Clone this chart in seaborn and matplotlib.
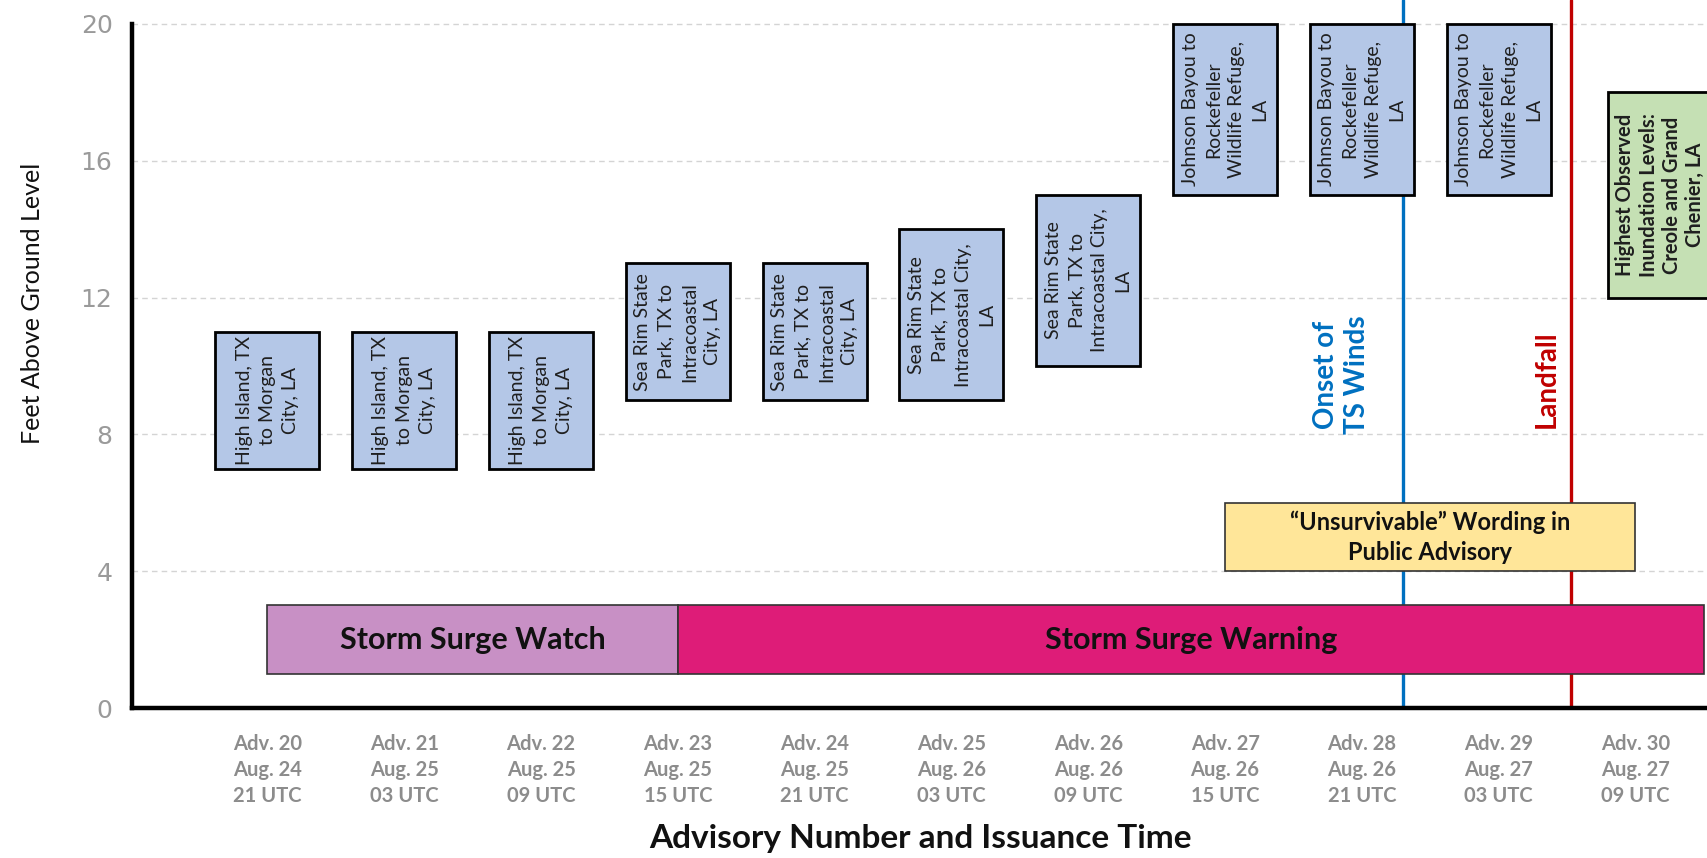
import numpy as np
import pandas as pd
import matplotlib.pyplot as plt
import seaborn as sns

# advisory axis
adv = ['Adv. 20', 'Adv. 21', 'Adv. 22', 'Adv. 23', 'Adv. 24', 'Adv. 25',
       'Adv. 26', 'Adv. 27', 'Adv. 28', 'Adv. 29', 'Adv. 30']
dates = ['Aug. 24', 'Aug. 25', 'Aug. 25', 'Aug. 25', 'Aug. 25', 'Aug. 26',
         'Aug. 26', 'Aug. 26', 'Aug. 26', 'Aug. 27', 'Aug. 27']
times = ['21 UTC', '03 UTC', '09 UTC', '15 UTC', '21 UTC', '03 UTC',
         '09 UTC', '15 UTC', '21 UTC', '03 UTC', '09 UTC']

# peak surge forecast ranges (ft) for adv 20-29
peak_low = [7, 7, 7, 9, 9, 9, 10, 15, 15, 15]
peak_high = [11, 11, 11, 13, 13, 14, 15, 20, 20, 20]
hi_tx = 'High Island, TX\nto Morgan\nCity, LA'
sr_a = 'Sea Rim State\nPark, TX to\nIntracoastal\nCity, LA'
sr_b = 'Sea Rim State\nPark, TX to\nIntracoastal City,\nLA'
jb = 'Johnson Bayou to\nRockefeller\nWildlife Refuge,\nLA'
peak_areas = [hi_tx, hi_tx, hi_tx, sr_a, sr_a, sr_b, sr_b, jb, jb, jb]

# observed
obs_x = 10.18
obs_low, obs_high = 12, 18
obs_label = 'Highest Observed\nInundation Levels:\nCreole and Grand\nChenier, LA'

# watch / warning spans (advisory index)
watch_span = (0, 3)
warning_span = (3, 10.5)
unsurv_span = (7, 10)
ts_onset = 8.3
landfall = 9.53

sns.set_theme(style='white')
plt.rcParams['font.family'] = ['Lato', 'DejaVu Sans']

fig = plt.figure(figsize=(17.08, 8.58), dpi=100)
ax = fig.add_axes([132/1708, 150/858, 1576/1708, 708/858])

xs = np.arange(len(adv))

# event lines
ax.axvline(ts_onset, color='#0070c0', lw=2.4, zorder=2)
ax.axvline(landfall, color='#c00000', lw=2.4, zorder=2)
ax.text(ts_onset - 0.45, 8.0, 'Onset of\nTS Winds', rotation=90, ha='center', va='bottom',
        color='#0070c0', fontsize=20, fontweight='bold', linespacing=1.25)
ax.text(landfall - 0.18, 8.2, 'Landfall', rotation=90, ha='center', va='bottom',
        color='#c00000', fontsize=20, fontweight='bold')

# forecast boxes
ax.bar(xs[:len(peak_low)], np.subtract(peak_high, peak_low), bottom=peak_low, width=0.76,
       color='#b4c7e7', edgecolor='black', linewidth=2, zorder=3)
for x, lo, hi, lab in zip(xs, peak_low, peak_high, peak_areas):
    ax.text(x, (lo + hi) / 2, lab, rotation=90, ha='center', va='center',
            fontsize=14, linespacing=1.45, color='#1f1f1f', zorder=4)

# observed box
ax.bar(obs_x, obs_high - obs_low, bottom=obs_low, width=0.76,
       color='#c5e0b4', edgecolor='black', linewidth=2, zorder=3)
ax.text(obs_x, (obs_low + obs_high) / 2, obs_label, rotation=90, ha='center', va='center',
        fontsize=14.5, fontweight='bold', linespacing=1.2, color='#1f1f1f', zorder=4)

# watch / warning
ax.barh(2, watch_span[1] - watch_span[0], left=watch_span[0], height=2,
        color='#c890c5', edgecolor='#333333', linewidth=1.2, zorder=3)
ax.barh(2, warning_span[1] - warning_span[0], left=warning_span[0], height=2,
        color='#de1c78', edgecolor='#333333', linewidth=1.2, zorder=3)
ax.text(sum(watch_span) / 2, 2, 'Storm Surge Watch', ha='center', va='center',
        fontsize=22, fontweight='bold', color='#111111', zorder=4)
ax.text(sum(warning_span) / 2, 2, 'Storm Surge Warning', ha='center', va='center',
        fontsize=22, fontweight='bold', color='#111111', zorder=4)

# unsurvivable wording
ax.barh(5, unsurv_span[1] - unsurv_span[0], left=unsurv_span[0], height=2,
        color='#ffe699', edgecolor='#333333', linewidth=1.2, zorder=3)
ax.text(sum(unsurv_span) / 2, 5, '\u201cUnsurvivable\u201d Wording in\nPublic Advisory',
        ha='center', va='center', fontsize=17, fontweight='bold', color='#111111',
        linespacing=1.35, zorder=4)

# axes
ax.set_xlim(-0.99, 10.53)
ax.set_ylim(0, 20.7)
ax.set_yticks([0, 4, 8, 12, 16, 20])
ax.set_yticklabels(['0', '4', '8', '12', '16', '20'], family=['DejaVu Sans'])
ax.set_xticks(xs)
ax.set_xticklabels([f'{a}\n{d}\n{t}' for a, d, t in zip(adv, dates, times)],
                   fontweight='bold', color='#8c8c8c', fontsize=14.5, linespacing=1.35)
ax.tick_params(axis='x', length=0, pad=19)
ax.tick_params(axis='y', length=0, pad=14, labelsize=18, labelcolor='#9a9a9a')

ax.yaxis.grid(True, linestyle=(0, (4, 3)), color='#d4d4d4', lw=1)
ax.xaxis.grid(False)
ax.set_axisbelow(True)

for s in ['top', 'right']:
    ax.spines[s].set_visible(False)
ax.spines['left'].set_bounds(0, 20)
ax.spines['left'].set_linewidth(3.2)
ax.spines['left'].set_color('black')
ax.spines['bottom'].set_linewidth(3.2)
ax.spines['bottom'].set_color('black')

ax.set_ylabel('Feet Above Ground Level', fontsize=18, color='#111111')
ax.yaxis.set_label_coords(-0.056, 0.572)
ax.set_xlabel('Advisory Number and Issuance Time', fontsize=24, fontweight='bold', color='#111111')
ax.xaxis.set_label_coords(0.5, -0.185)
ax.xaxis.label.set_va('center')

fig.savefig('out.png', dpi=100)
